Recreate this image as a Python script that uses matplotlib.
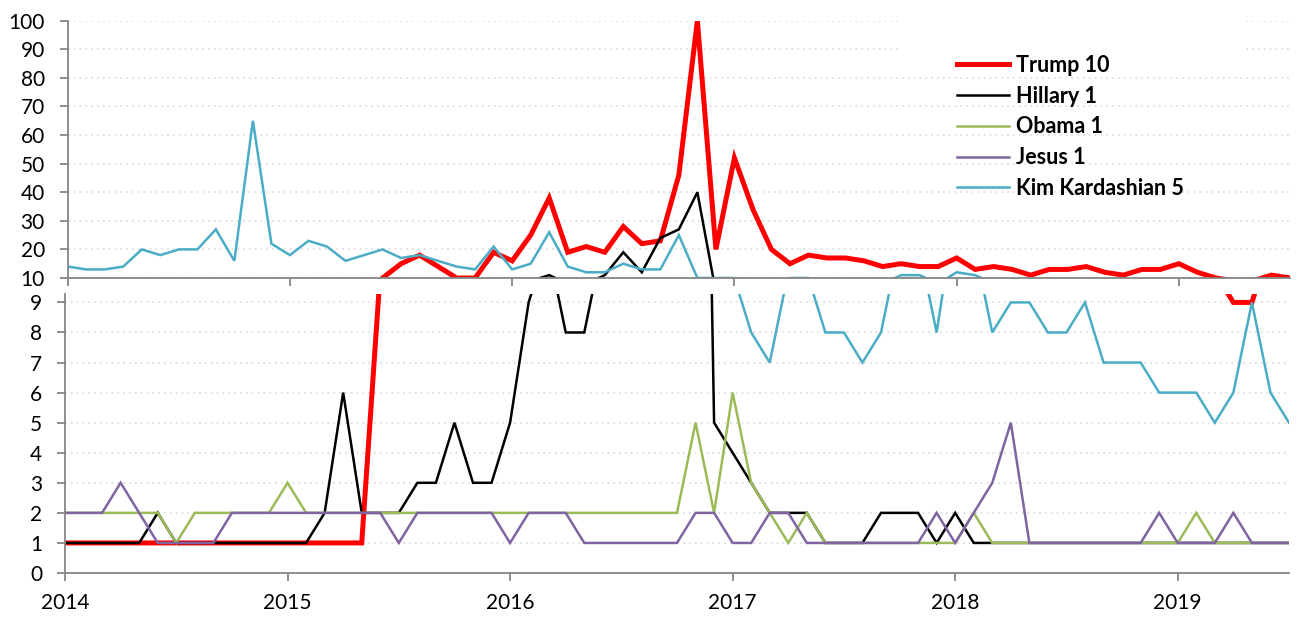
import matplotlib
matplotlib.use('agg')
from matplotlib import pyplot as plt
from matplotlib.patches import Rectangle

plt.rcParams['font.family'] = ['Lato', 'DejaVu Sans']

# monthly values, Jan 2014 .. Jul 2019
years = ['2014', '2015', '2016', '2017', '2018', '2019']
year_pos = [0, 12, 24, 36, 48, 60]
months = list(range(67))

trump = [1] * 17 + [10, 15, 18, 14, 10, 10, 19, 16, 25, 38, 19, 21, 19, 28, 22, 23, 46,
                    100, 20, 52, 34, 20, 15, 18, 17, 17, 16, 14, 15, 14, 14, 17, 13, 14,
                    13, 11, 13, 13, 14, 12, 11, 13, 13, 15, 12, 10, 9, 9, 11, 10]
hillary = [1, 1, 1, 1, 1, 2, 1, 1, 1, 1, 1, 1, 1, 1, 2, 6, 2, 2, 2, 3, 3, 5, 3, 3, 5, 9,
           11, 8, 8, 11, 19, 12, 24, 27, 40, 5, 4, 3, 2, 2, 2, 1, 1, 1, 2, 2, 2, 1, 2, 1] + [1] * 17
obama = [2, 2, 2, 2, 2, 2, 1, 2, 2, 2, 2, 2, 3] + [2] * 21 + [5, 2, 6, 3, 2, 1, 2] + [1] * 8 \
    + [2] + [1] * 11 + [2, 1, 1, 1, 1, 1]
jesus = [2, 2, 2, 3, 2, 1, 1, 1, 1] + [2] * 9 + [1, 2, 2, 2, 2, 2, 1, 2, 2, 2] + [1] * 6 \
    + [2, 2, 1, 1, 2, 2] + [1] * 7 + [2, 1, 2, 3, 5] + [1] * 7 + [2, 1, 1, 1, 2, 1, 1, 1]
kim = [14, 13, 13, 14, 20, 18, 20, 20, 27, 16, 65, 22, 18, 23, 21, 16, 18, 20, 17, 18, 16,
       14, 13, 21, 13, 15, 26, 14, 12, 12, 15, 13, 13, 25, 10, 10, 10, 8, 7, 10, 10, 8, 8,
       7, 8, 11, 11, 8, 12, 11, 8, 9, 9, 8, 8, 9, 7, 7, 7, 6, 6, 6, 5, 6, 9, 6, 5]

series = [
    ('Trump 10', trump, '#FF0000', 3.6),
    ('Hillary 1', hillary, '#000000', 1.8),
    ('Obama 1', obama, '#9BBB59', 1.8),
    ('Jesus 1', jesus, '#8064A2', 1.8),
    ('Kim Kardashian 5', kim, '#4BACC6', 1.8),
]

W, H = 1296, 618
fig = plt.figure(figsize=(W / 100, H / 100), dpi=100)
ax_top = fig.add_axes([67.7 / W, 340 / H, (1290 - 67.7) / W, (597.3 - 340) / H])
ax_bot = fig.add_axes([65 / W, 45 / H, (1289 - 65) / W, (324 - 45) / H])

gray = '#868686'
for ax in (ax_top, ax_bot):
    for name, vals, col, lw in series:
        ax.plot(months, vals, color=col, linewidth=lw, label=name, solid_joinstyle='miter')
    ax.set_xlim(0, 66)
    ax.set_xticks(year_pos)
    ax.spines['top'].set_visible(False)
    ax.spines['right'].set_visible(False)
    for s in ('left', 'bottom'):
        ax.spines[s].set_color(gray)
        ax.spines[s].set_linewidth(1.3)
    ax.tick_params(direction='out', length=5.5, width=1.3, color=gray,
                   labelsize=15, pad=11, labelcolor='black')
    ax.set_axisbelow(True)
    ax.yaxis.grid(True, color='#D9D9D9', linestyle=(0, (1, 2.5)), linewidth=1.2)

ax_top.set_ylim(10, 100)
ax_top.set_yticks(range(10, 101, 10))
ax_top.set_xticklabels([])

ax_bot.set_ylim(0, 9.28)
ax_bot.set_yticks(range(0, 10))
ax_bot.set_xticklabels(years)
ax_bot.tick_params(axis='x', pad=9)

# white area behind the legend hides the grid
ax_top.add_patch(Rectangle((902 / W, 1 - 50 / H), 340 / W, 155 / H, transform=fig.transFigure,
                           facecolor='white', edgecolor='none', zorder=1))

leg = ax_top.legend(loc='upper left', bbox_to_anchor=(957 / W, 1 - 55 / H),
                    bbox_transform=fig.transFigure, frameon=False, borderpad=0,
                    borderaxespad=0, handlelength=2.4, handletextpad=0.33,
                    labelspacing=0.45, prop={'size': 15.5, 'weight': 'bold'})
leg.set_zorder(5)

plt.savefig('out.png', dpi=100, facecolor='white')
